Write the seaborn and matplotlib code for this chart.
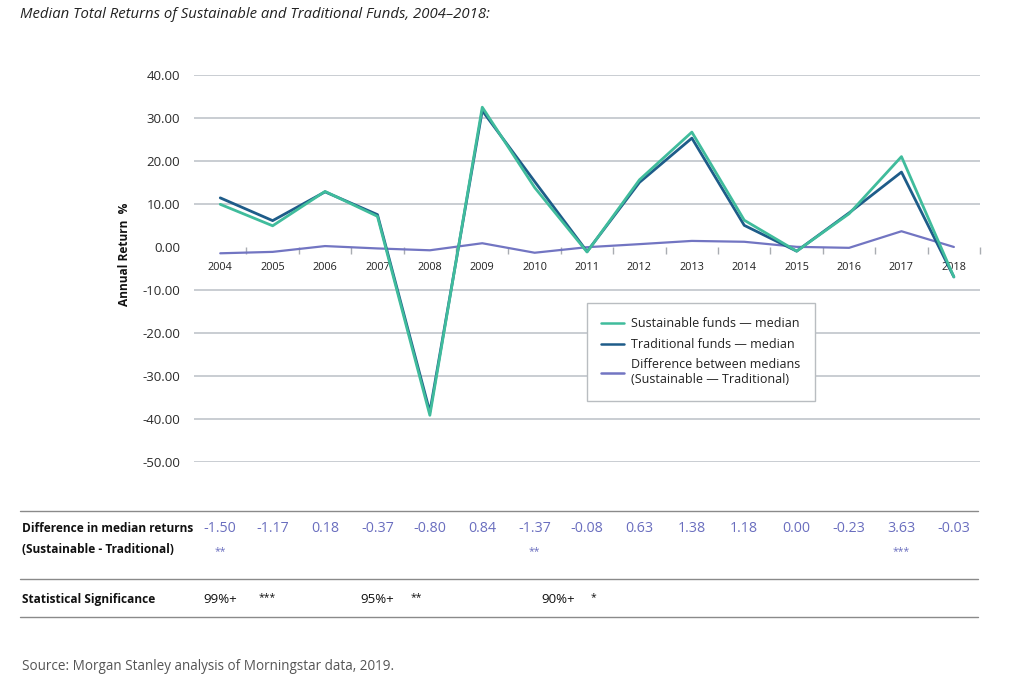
import matplotlib
matplotlib.use("Agg")
import matplotlib.pyplot as plt
import matplotlib.transforms as mtransforms
from matplotlib.lines import Line2D
import numpy as np
import pandas as pd
import seaborn as sns

# ── data ─────────────────────────────────────────────────────────────────────
years = [str(y) for y in range(2004, 2019)]
sustainable = [9.9, 4.9, 12.9, 7.1, -39.2, 32.5, 13.8, -1.2, 15.6, 26.7, 6.2, -1.0, 7.7, 21.0, -7.0]
traditional = [11.4, 6.1, 12.8, 7.5, -38.4, 31.7, 15.2, -1.1, 15.0, 25.3, 5.0, -1.0, 7.9, 17.4, -7.0]
difference = [-1.50, -1.17, 0.18, -0.37, -0.80, 0.84, -1.37, -0.08, 0.63, 1.38, 1.18, 0.00, -0.23, 3.63, -0.03]
sig_stars = ["**", "", "", "", "", "", "**", "", "", "", "", "", "", "***", ""]
sig_levels = ["99%+", "95%+", "90%+"]
sig_marks = ["***", "**", "*"]
y_ticks = list(range(-50, 41, 10))

lab_sus = "Sustainable funds \u2014 median"
lab_trad = "Traditional funds \u2014 median"
lab_diff = "Difference between medians\n(Sustainable \u2014 Traditional)"

c_sus = "#40bc9c"
c_trad = "#1e5c89"
c_diff = "#7275c2"
c_grid = "#c9cdd2"

sns.set_theme(style="white")
plt.rcParams["font.family"] = ["Open Sans", "DejaVu Sans"]

df = pd.concat([
    pd.DataFrame({"Year": years, "Return": difference, "Series": lab_diff}),
    pd.DataFrame({"Year": years, "Return": traditional, "Series": lab_trad}),
    pd.DataFrame({"Year": years, "Return": sustainable, "Series": lab_sus}),
])

fig = plt.figure(figsize=(10.24, 6.84), dpi=100)
ax = fig.add_axes([0.1895, 0.325, 0.7676, 0.5654])

sns.lineplot(data=df, x="Year", y="Return", hue="Series", sort=False,
             palette={lab_sus: c_sus, lab_trad: c_trad, lab_diff: c_diff},
             hue_order=[lab_diff, lab_trad, lab_sus], linewidth=2, ax=ax)
for ln in ax.lines:
    if ln.get_color() == c_diff:
        ln.set_linewidth(1.6)

ax.set_xlim(-0.5, 14.5)
ax.set_ylim(-50, 40)
ax.hlines([t for t in y_ticks if t != 0], -0.5, 14.5, color=c_grid, lw=1.4, zorder=0)

for s in ["top", "right", "left"]:
    ax.spines[s].set_visible(False)
ax.spines["bottom"].set_position(("data", 0))
ax.spines["bottom"].set_visible(False)

ax.set_xticks(range(len(years)))
ax.set_xticklabels(years)
ax.set_xticks(np.arange(0.5, len(years), 1.0), minor=True)
ax.tick_params(axis="x", which="major", length=0, pad=11, labelsize=7.8, labelcolor="#222222")
ax.tick_params(axis="x", which="minor", length=5, width=1, color="#a9adb2", direction="out", bottom=True)

ax.set_yticks(y_ticks)
ax.set_yticklabels([f"{t:.2f}" for t in y_ticks])
ax.tick_params(axis="y", length=0, pad=10, labelsize=9.5, labelcolor="#2b2b2b")
ax.set_xlabel("")
ax.set_ylabel("Annual Return  %", fontsize=8.6, fontweight="bold", color="#111111")
ax.yaxis.set_label_coords(-0.08, 0.535)

handles, labels = ax.get_legend_handles_labels()
order = [labels.index(l) for l in [lab_sus, lab_trad, lab_diff]]
leg = ax.legend([handles[i] for i in order], [labels[i] for i in order],
                loc="upper left", bbox_to_anchor=(0.573, 0.557), bbox_transform=fig.transFigure,
                fontsize=9, frameon=True, fancybox=False, framealpha=1,
                edgecolor="#b9bdc1", handlelength=1.8, labelspacing=0.6,
                borderpad=1.15, handletextpad=0.6, borderaxespad=0)
leg.get_frame().set_linewidth(1)
for ln in leg.get_lines():
    ln.set_linewidth(1.8)
for t in leg.get_texts():
    t.set_color("#222222")

fig.text(0.0195, 0.979, "Median Total Returns of Sustainable and Traditional Funds, 2004\u20132018:",
         fontsize=10.7, style="italic", color="#222222", va="center")

# ── table under the chart ────────────────────────────────────────────────────
for yl in [0.2534, 0.153, 0.0984]:
    fig.add_artist(Line2D([0.0195, 0.955], [yl, yl], color="#8a8a8a", lw=1))

fig.text(0.0215, 0.228, "Difference in median returns", fontsize=8.6, fontweight="bold",
         color="#111111", va="center")
fig.text(0.0215, 0.196, "(Sustainable - Traditional)", fontsize=8.6, fontweight="bold",
         color="#111111", va="center")
fig.text(0.0215, 0.124, "Statistical Significance", fontsize=8.6, fontweight="bold",
         color="#111111", va="center")

tr = mtransforms.blended_transform_factory(ax.transData, fig.transFigure)
for i, (d, st) in enumerate(zip(difference, sig_stars)):
    ax.text(i, 0.228, f"{d:.2f}", transform=tr, ha="center", va="center",
            fontsize=10.3, color="#6a6ebf", clip_on=False)
    if st:
        ax.text(i, 0.194, st, transform=tr, ha="center", va="center",
                fontsize=7.5, color="#6a6ebf", clip_on=False)

sig_x = [0.215, 0.368, 0.545]
mark_x = [0.261, 0.407, 0.580]
for lv, mk, x1, x2 in zip(sig_levels, sig_marks, sig_x, mark_x):
    fig.text(x1, 0.124, lv, fontsize=9.5, ha="center", va="center", color="#111111")
    fig.text(x2, 0.127, mk, fontsize=7.5, ha="center", va="center", color="#111111")

fig.text(0.0215, 0.025, "Source: Morgan Stanley analysis of Morningstar data, 2019.",
         fontsize=9.75, color="#555555", va="center")

fig.savefig("out.png", dpi=100)
